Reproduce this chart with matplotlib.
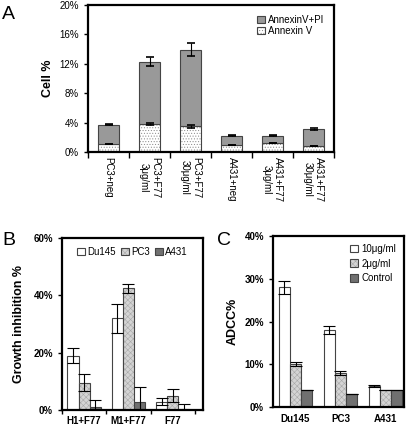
import matplotlib
matplotlib.use("Agg")
import matplotlib.pyplot as plt
import numpy as np
from matplotlib.ticker import FuncFormatter

plt.rcParams['font.family'] = ['Liberation Sans', 'DejaVu Sans']
plt.rcParams['hatch.linewidth'] = 0.4

# panel A
a_labels = ["PC3+neg", "PC3+F77\n3μg/ml", "PC3+F77\n30μg/ml",
            "A431+neg", "A431+F77\n3μg/ml", "A431+F77\n30μg/ml"]
a_annexin = [1.1, 3.8, 3.5, 1.0, 1.2, 0.8]
a_annexin_err = [0.0, 0.1, 0.2, 0.0, 0.05, 0.0]
a_total = [3.7, 12.3, 13.9, 2.2, 2.2, 3.1]
a_total_err = [0.1, 0.6, 0.9, 0.05, 0.1, 0.1]

# panel B
b_groups = ["H1+F77", "M1+F77", "F77"]
b_series = ["Du145", "PC3", "A431"]
b_vals = [[19, 32, 3], [9.5, 42.5, 5], [1, 3, 0.5]]
b_errs = [[2.5, 5, 1.2], [3, 1.5, 2.2], [2.5, 5, 1.5]]

# panel C
c_groups = ["Du145", "PC3", "A431"]
c_series = ["10μg/ml", "2μg/ml", "Control"]
c_vals = [[28, 18, 5], [10, 8, 4], [4, 3, 4]]
c_errs = [[1.5, 1.0, 0.2], [0.5, 0.4, 0.0], [0.0, 0.0, 0.0]]

fig = plt.figure(figsize=(4.1, 4.29), dpi=100)
pct = FuncFormatter(lambda v, p: "%d%%" % v)
fs = 7

def style(ax):
    for s in ax.spines.values():
        s.set_linewidth(1.6)
    ax.tick_params(labelsize=fs, width=1, length=3)
    ax.yaxis.set_major_formatter(pct)

def hatched_bar(ax, xs, vals, w, face, hcol, hatch, bottom=None):
    # hatch drawn in light colour, outline drawn on top in dark grey
    b1 = ax.bar(xs, vals, width=w, bottom=bottom, color=face, edgecolor=hcol,
                hatch=hatch, linewidth=0)
    b2 = ax.bar(xs, vals, width=w, bottom=bottom, fill=False,
                edgecolor='#444444', linewidth=0.8)
    return (b1[0], b2[0])

# ---- A
ax = fig.add_axes([0.215, 0.646, 0.6, 0.342])
x = np.arange(len(a_labels))
upper = np.array(a_total) - np.array(a_annexin)
h_av = hatched_bar(ax, x, a_annexin, 0.52, 'white', '#888888', '......')
h_pi = ax.bar(x, upper, width=0.52, bottom=a_annexin, color='#999999',
              edgecolor='#444444', linewidth=0.8)
ax.errorbar(x, a_annexin, yerr=a_annexin_err, fmt='none', ecolor='black',
            elinewidth=0.8, capsize=3, capthick=1.2)
ax.errorbar(x, a_total, yerr=a_total_err, fmt='none', ecolor='black',
            elinewidth=0.8, capsize=3, capthick=1.2)
ax.set_xlim(-0.5, 5.5)
ax.set_ylim(0, 20)
ax.set_yticks([0, 4, 8, 12, 16, 20])
style(ax)
ax.set_xticks(x)
ax.set_xticklabels(a_labels, rotation=270, fontsize=fs, linespacing=1.2)
ax.set_xticks(np.arange(-0.5, 6, 1), minor=True)
ax.tick_params(axis='x', which='major', length=0)
ax.tick_params(axis='x', which='minor', length=4, width=1)
ax.set_ylabel("Cell %", fontsize=9, fontweight='bold', labelpad=4)
ax.legend([h_pi[0], h_av], ['AnnexinV+PI', 'Annexin V'], loc='upper right',
          fontsize=fs, frameon=False, handlelength=0.8, handleheight=0.8,
          handletextpad=0.3, labelspacing=0.1, borderaxespad=0.6)
fig.text(0.005, 0.985, "A", fontsize=14, va='top')

# ---- B
ax = fig.add_axes([0.151, 0.044, 0.344, 0.401])
xb = np.arange(len(b_groups))
w = 0.25
b_colors = ['white', '#d4d4d4', '#707070']
b_hatch = [None, 'xxxxxx', None]
handles = []
for i, name in enumerate(b_series):
    handles.append(hatched_bar(ax, xb + (i - 1) * w, b_vals[i], w,
                               b_colors[i], '#a8a8a8', b_hatch[i]))
    ax.errorbar(xb + (i - 1) * w, b_vals[i], yerr=b_errs[i], fmt='none',
                ecolor='black', elinewidth=0.8, capsize=4, capthick=0.8)
ax.set_xlim(-0.5, 2.68)
ax.set_ylim(0, 60)
ax.set_yticks([0, 20, 40, 60])
style(ax)
ax.set_xticks(xb)
ax.set_xticklabels(b_groups, fontsize=fs, fontweight='bold')
ax.set_xticks(np.arange(-0.5, 3, 1), minor=True)
ax.tick_params(axis='x', which='major', length=0, pad=4)
ax.tick_params(axis='x', which='minor', length=3, width=1)
for t in ax.get_yticklabels():
    t.set_fontweight('bold')
ax.set_ylabel("Growth inhibition %", fontsize=9, fontweight='bold', labelpad=6)
ax.legend(handles, b_series, loc='upper center', ncol=3, fontsize=fs,
          frameon=False, handlelength=0.8, handleheight=0.8,
          handletextpad=0.2, columnspacing=0.6, borderaxespad=0.5)
fig.text(0.005, 0.46, "B", fontsize=14, va='top')

# ---- C
ax = fig.add_axes([0.666, 0.051, 0.32, 0.399])
xc = np.arange(len(c_groups))
c_colors = ['white', '#d4d4d4', '#707070']
c_hatch = [None, 'xxxxxx', None]
handles = []
for i, name in enumerate(c_series):
    handles.append(hatched_bar(ax, xc + (i - 1) * w, c_vals[i], w,
                               c_colors[i], '#a8a8a8', c_hatch[i]))
    ax.errorbar(xc + (i - 1) * w, c_vals[i], yerr=c_errs[i], fmt='none',
                ecolor='black', elinewidth=0.8, capsize=4, capthick=0.8)
ax.set_xlim(-0.5, 2.42)
ax.set_ylim(0, 40)
ax.set_yticks([0, 10, 20, 30, 40])
style(ax)
ax.set_xticks(xc)
ax.set_xticklabels(c_groups, fontsize=fs, fontweight='bold')
ax.tick_params(axis='x', which='major', length=0, pad=5)
for t in ax.get_yticklabels():
    t.set_fontweight('bold')
ax.set_ylabel("ADCC%", fontsize=9, fontweight='bold', labelpad=4)
ax.legend(handles, c_series, loc='upper right', fontsize=fs, frameon=False,
          handlelength=0.8, handleheight=0.8, handletextpad=0.4,
          labelspacing=0.5, borderaxespad=0.4)
fig.text(0.53, 0.46, "C", fontsize=14, va='top')

fig.savefig("out.png", dpi=100)
